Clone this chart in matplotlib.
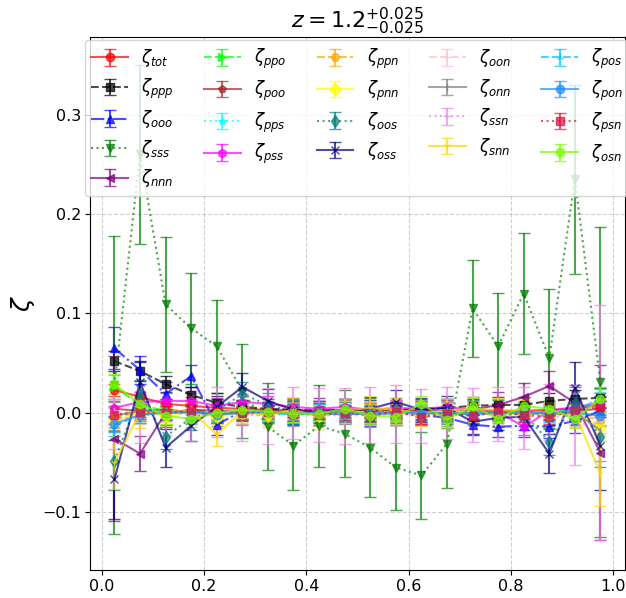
import matplotlib
matplotlib.use("Agg")
import matplotlib.pyplot as plt

# bin centres
x = [0.025, 0.075, 0.125, 0.175, 0.225, 0.275, 0.325, 0.375, 0.425, 0.475,
     0.525, 0.575, 0.625, 0.675, 0.725, 0.775, 0.825, 0.875, 0.925, 0.975]

names = ["tot", "ppp", "ooo", "sss", "nnn", "ppo", "poo", "pps", "pss", "ppn", "pnn",
         "oos", "oss", "oon", "onn", "ssn", "snn", "pos", "pon", "psn", "osn"]

zeta = {
    "tot": [0.023, 0.016, 0.009, 0.007, 0.005, 0.004, 0.003, 0.003, 0.002, 0.003,
            0.002, 0.003, 0.002, 0.002, 0.003, 0.002, 0.002, 0.003, 0.004, 0.008],
    "ppp": [0.052, 0.042, 0.029, 0.018, 0.010, 0.006, 0.004, 0.003, 0.002, 0.003,
            0.002, 0.003, 0.004, 0.005, 0.007, 0.008, 0.008, 0.012, 0.014, 0.015],
    "ooo": [0.065, 0.043, 0.019, 0.037, -0.012, 0.002, 0.001, -0.001, 0.000, 0.001,
            -0.003, 0.000, -0.002, -0.005, -0.012, -0.014, -0.013, -0.014, -0.008, 0.002],
    "sss": [0.028, 0.260, 0.109, 0.085, 0.067, 0.022, -0.014, -0.033, -0.013, -0.021,
            -0.035, -0.055, -0.063, -0.031, 0.105, 0.067, 0.120, 0.055, 0.235, 0.031],
    "nnn": [-0.026, -0.041, 0.000, 0.003, 0.002, 0.001, 0.002, 0.000, 0.003, 0.002,
            0.001, 0.000, 0.002, 0.001, 0.003, 0.008, 0.016, 0.027, 0.010, -0.040],
    "ppo": [0.026, 0.008, 0.002, 0.001, 0.000, 0.002, 0.001, 0.000, 0.001, 0.002,
            0.000, -0.001, 0.001, 0.000, 0.002, 0.001, 0.000, 0.001, 0.003, 0.012],
    "poo": [0.004, 0.002, 0.003, 0.001, 0.002, 0.000, 0.001, 0.002, 0.000, 0.001,
            0.002, 0.001, 0.000, 0.001, 0.000, 0.002, 0.001, 0.000, 0.002, 0.004],
    "pps": [-0.004, 0.003, 0.002, 0.001, 0.000, 0.002, 0.001, 0.000, -0.001, 0.001,
            0.000, 0.001, 0.000, -0.001, 0.001, 0.000, -0.001, 0.000, 0.004, 0.010],
    "pss": [0.005, 0.011, 0.012, 0.012, 0.007, 0.011, 0.009, 0.006, 0.004, 0.006,
            0.003, 0.005, 0.004, 0.006, 0.003, 0.001, -0.014, 0.002, 0.006, 0.009],
    "ppn": [-0.005, 0.001, 0.000, 0.002, -0.002, 0.001, 0.000, 0.002, 0.001, 0.000,
            0.003, 0.001, 0.000, 0.002, 0.001, 0.000, -0.002, 0.001, 0.000, -0.008],
    "pnn": [-0.008, 0.000, -0.003, 0.001, -0.004, 0.000, -0.002, 0.001, -0.003, 0.000,
            -0.001, 0.002, -0.002, 0.000, 0.001, -0.003, 0.000, -0.002, -0.001, -0.014],
    "oos": [-0.048, 0.019, -0.024, -0.005, 0.002, 0.019, 0.008, 0.001, 0.000, 0.002,
            0.001, 0.003, 0.000, 0.002, 0.001, -0.002, -0.001, -0.029, 0.010, -0.024],
    "oss": [-0.067, 0.031, -0.035, -0.013, 0.006, 0.026, 0.012, 0.003, 0.000, 0.002,
            0.004, 0.011, 0.003, 0.005, -0.009, -0.005, -0.004, -0.041, 0.025, -0.033],
    "oon": [0.002, -0.001, 0.001, 0.000, 0.002, -0.001, 0.000, 0.001, -0.002, 0.000,
            0.001, -0.001, 0.000, 0.002, 0.000, -0.001, 0.001, 0.000, -0.002, -0.006],
    "onn": [-0.003, 0.002, 0.000, 0.001, -0.001, 0.000, 0.002, -0.001, 0.000, 0.001,
            -0.002, 0.000, 0.001, -0.001, 0.000, 0.002, -0.001, 0.000, 0.001, -0.018],
    "ssn": [-0.006, -0.004, 0.002, -0.003, 0.001, -0.002, -0.003, 0.000, -0.002, -0.003,
            -0.002, -0.001, -0.003, 0.000, -0.002, -0.001, -0.005, 0.001, -0.012, -0.010],
    "snn": [-0.050, 0.000, 0.001, 0.002, -0.022, 0.002, -0.002, 0.003, -0.004, 0.002,
            0.005, 0.003, -0.001, 0.002, 0.004, 0.003, 0.001, -0.002, 0.000, -0.061],
    "pos": [-0.013, -0.002, 0.001, 0.000, -0.001, 0.001, 0.000, -0.002, 0.001, 0.000,
            -0.001, 0.000, 0.001, -0.001, 0.000, 0.001, 0.000, -0.001, 0.003, 0.014],
    "pon": [-0.011, -0.002, 0.000, 0.001, -0.002, 0.000, 0.001, -0.001, 0.000, -0.002,
            0.000, 0.001, -0.001, 0.000, -0.002, 0.000, 0.001, -0.001, 0.000, -0.003],
    "psn": [-0.002, 0.001, 0.000, 0.002, 0.001, 0.000, 0.001, -0.001, -0.002, 0.000,
            -0.002, 0.001, -0.004, -0.001, -0.003, 0.001, -0.002, -0.004, 0.002, 0.006],
    "osn": [0.029, 0.009, -0.003, -0.006, 0.000, 0.003, 0.001, -0.001, -0.001, 0.004,
            -0.003, -0.004, 0.009, -0.007, 0.007, -0.006, 0.007, 0.004, -0.006, 0.014],
}

zeta_err = {
    "tot": [0.006, 0.005, 0.005, 0.005, 0.005, 0.005, 0.005, 0.005, 0.005, 0.005,
            0.005, 0.005, 0.005, 0.005, 0.005, 0.005, 0.005, 0.005, 0.006, 0.008],
    "ppp": [0.010, 0.010, 0.008, 0.008, 0.007, 0.007, 0.007, 0.007, 0.007, 0.007,
            0.007, 0.007, 0.007, 0.007, 0.007, 0.008, 0.008, 0.008, 0.009, 0.010],
    "ooo": [0.021, 0.014, 0.012, 0.011, 0.010, 0.010, 0.010, 0.010, 0.010, 0.010,
            0.010, 0.010, 0.010, 0.010, 0.010, 0.010, 0.011, 0.011, 0.012, 0.015],
    "sss": [0.150, 0.090, 0.068, 0.056, 0.047, 0.047, 0.044, 0.045, 0.041, 0.044,
            0.050, 0.043, 0.044, 0.045, 0.049, 0.054, 0.061, 0.070, 0.095, 0.156],
    "nnn": [0.083, 0.018, 0.014, 0.013, 0.012, 0.012, 0.012, 0.012, 0.012, 0.012,
            0.012, 0.012, 0.012, 0.012, 0.013, 0.013, 0.014, 0.015, 0.018, 0.088],
    "ppo": [0.012, 0.009, 0.008, 0.008, 0.008, 0.008, 0.008, 0.008, 0.008, 0.008,
            0.008, 0.008, 0.008, 0.008, 0.008, 0.008, 0.008, 0.008, 0.009, 0.012],
    "poo": [0.008, 0.006, 0.006, 0.006, 0.006, 0.006, 0.006, 0.006, 0.006, 0.006,
            0.006, 0.006, 0.006, 0.006, 0.006, 0.006, 0.006, 0.006, 0.007, 0.008],
    "pps": [0.010, 0.008, 0.008, 0.008, 0.008, 0.008, 0.008, 0.008, 0.008, 0.008,
            0.008, 0.008, 0.008, 0.008, 0.008, 0.008, 0.008, 0.008, 0.009, 0.011],
    "pss": [0.009, 0.008, 0.008, 0.008, 0.008, 0.008, 0.008, 0.008, 0.008, 0.008,
            0.008, 0.008, 0.008, 0.008, 0.008, 0.008, 0.008, 0.008, 0.009, 0.011],
    "ppn": [0.010, 0.008, 0.008, 0.008, 0.008, 0.008, 0.008, 0.008, 0.008, 0.008,
            0.008, 0.008, 0.008, 0.008, 0.008, 0.008, 0.008, 0.008, 0.009, 0.012],
    "pnn": [0.012, 0.010, 0.010, 0.010, 0.010, 0.010, 0.010, 0.010, 0.010, 0.010,
            0.010, 0.010, 0.010, 0.010, 0.010, 0.010, 0.010, 0.010, 0.011, 0.014],
    "oos": [0.030, 0.014, 0.012, 0.012, 0.012, 0.012, 0.012, 0.012, 0.012, 0.012,
            0.012, 0.012, 0.012, 0.012, 0.012, 0.012, 0.012, 0.013, 0.016, 0.030],
    "oss": [0.040, 0.020, 0.019, 0.015, 0.014, 0.014, 0.012, 0.012, 0.012, 0.012,
            0.012, 0.012, 0.012, 0.012, 0.012, 0.012, 0.013, 0.020, 0.026, 0.045],
    "oon": [0.012, 0.010, 0.010, 0.010, 0.010, 0.010, 0.010, 0.010, 0.010, 0.010,
            0.010, 0.010, 0.010, 0.010, 0.010, 0.010, 0.010, 0.010, 0.012, 0.016],
    "onn": [0.014, 0.012, 0.012, 0.012, 0.012, 0.012, 0.012, 0.012, 0.012, 0.012,
            0.012, 0.012, 0.012, 0.012, 0.012, 0.012, 0.012, 0.012, 0.013, 0.030],
    "ssn": [0.030, 0.026, 0.024, 0.025, 0.025, 0.026, 0.028, 0.026, 0.027, 0.028,
            0.028, 0.029, 0.027, 0.026, 0.027, 0.027, 0.031, 0.028, 0.040, 0.118],
    "snn": [0.027, 0.015, 0.012, 0.012, 0.011, 0.012, 0.012, 0.012, 0.012, 0.012,
            0.012, 0.012, 0.012, 0.012, 0.012, 0.012, 0.012, 0.012, 0.014, 0.033],
    "pos": [0.010, 0.008, 0.008, 0.008, 0.008, 0.008, 0.008, 0.008, 0.008, 0.008,
            0.008, 0.008, 0.008, 0.008, 0.008, 0.008, 0.008, 0.008, 0.009, 0.012],
    "pon": [0.008, 0.006, 0.006, 0.006, 0.006, 0.006, 0.006, 0.006, 0.006, 0.006,
            0.006, 0.006, 0.006, 0.006, 0.006, 0.006, 0.006, 0.006, 0.007, 0.009],
    "psn": [0.009, 0.007, 0.007, 0.007, 0.007, 0.007, 0.007, 0.007, 0.007, 0.007,
            0.007, 0.007, 0.007, 0.007, 0.007, 0.007, 0.007, 0.007, 0.008, 0.010],
    "osn": [0.010, 0.008, 0.008, 0.008, 0.008, 0.008, 0.008, 0.008, 0.008, 0.008,
            0.008, 0.008, 0.008, 0.008, 0.008, 0.008, 0.008, 0.008, 0.009, 0.012],
}

styles = {
    "tot": ("red", "o", "-"), "ppp": ("black", "s", "--"), "ooo": ("blue", "^", "-."),
    "sss": ("green", "v", ":"), "nnn": ("purple", "<", "-"), "ppo": ("lime", ">", "--"),
    "poo": ("brown", "p", "-"), "pps": ("cyan", "*", ":"), "pss": ("magenta", "h", "-"),
    "ppn": ("orange", "H", "--"), "pnn": ("yellow", "D", "-"), "oos": ("teal", "d", ":"),
    "oss": ("navy", "x", "-"), "oon": ("pink", "+", "--"), "onn": ("gray", "|", "-"),
    "ssn": ("violet", "_", ":"), "snn": ("gold", "1", "-"), "pos": ("deepskyblue", "2", "--"),
    "pon": ("dodgerblue", "o", "-"), "psn": ("crimson", "s", ":"), "osn": ("lawngreen", "o", "-"),
}

fig = plt.figure(figsize=(6.26, 5.98), dpi=100)
ax = fig.add_axes([0.144, 0.047, 0.854, 0.891])

for name in names:
    color, marker, ls = styles[name]
    ax.errorbar(x, zeta[name], yerr=zeta_err[name], color=color, marker=marker,
                linestyle=ls, capsize=4, markersize=6, linewidth=1.5, alpha=0.7,
                label=rf"$\zeta_{{{name}}}$")

ax.set_ylim(-0.158, 0.378)
ax.grid(True, linestyle="--", alpha=0.6)
ax.tick_params(labelsize=11.5, pad=3)
ax.set_ylabel(r"$\zeta$", fontsize=18)
ax.set_title(r"$z = 1.2^{+0.025}_{-0.025}$", fontsize=16)
ax.legend(ncol=5, loc="upper center", fontsize=12, handlelength=2.2,
          columnspacing=1.8, borderaxespad=0.2, labelspacing=0.45)

fig.savefig("out.png", dpi=100)
